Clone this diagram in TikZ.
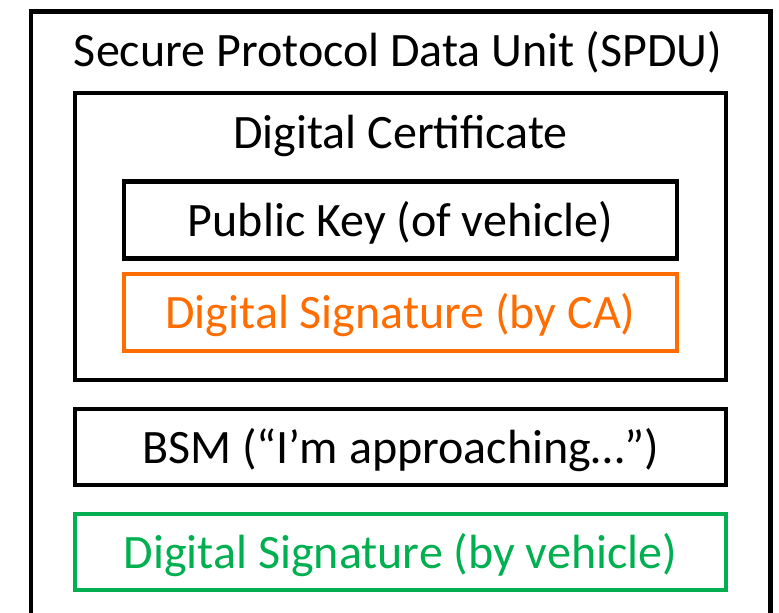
\documentclass[tikz,border=0pt]{standalone}
\usepackage{fontspec}
\setmainfont{Carlito}
\usetikzlibrary{positioning}

\definecolor{caorange}{HTML}{FF6D00}
\definecolor{vehgreen}{HTML}{00B050}

\begin{document}
\begin{tikzpicture}[
        x = 1pt, y = -1pt,
        every node/.style = {font = \fontsize{48}{56}\selectfont, inner sep = 0pt,
                             text height = 39pt, text depth = 7pt},
        field/.style = {draw = black, line width = 4.5pt, minimum height = 77pt},
        sigfield/.style = {field, line width = 3.8pt}
    ]

        \useasboundingbox (0,0) rectangle (779,613);

        % outer SPDU frame, runs off the bottom
        \node[draw, line width = 4.5pt, minimum width = 739.5pt, minimum height = 660pt,
              anchor = north west] (spdu) at (28.5,9) {};
        \node (spdutitle) at (398,50) {Secure Protocol Data Unit (SPDU)};

        % certificate and its fields
        \node[draw, line width = 4.5pt, minimum width = 651pt, minimum height = 287pt] (cert) at (400.5,236.5) {};
        \node (certtitle) at (400.5,132) {Digital Certificate};
        \node[field, minimum width = 553pt] (pubkey) at (400.5,220) {Public Key (of vehicle)};
        \node[sigfield, draw = caorange, text = caorange, minimum width = 553pt] (casig) [below = 11.5pt of pubkey] {Digital Signature (by CA)};

        % message and signature
        \node[field, minimum width = 651pt, minimum height = 76pt] (bsm) at (400.5,447) {BSM (“I’m approaching…”)};
        \node[sigfield, draw = vehgreen, text = vehgreen, minimum width = 651pt, minimum height = 76pt] (vsig) [below = 25pt of bsm] {Digital Signature (by vehicle)};

    \end{tikzpicture}
\end{document}
